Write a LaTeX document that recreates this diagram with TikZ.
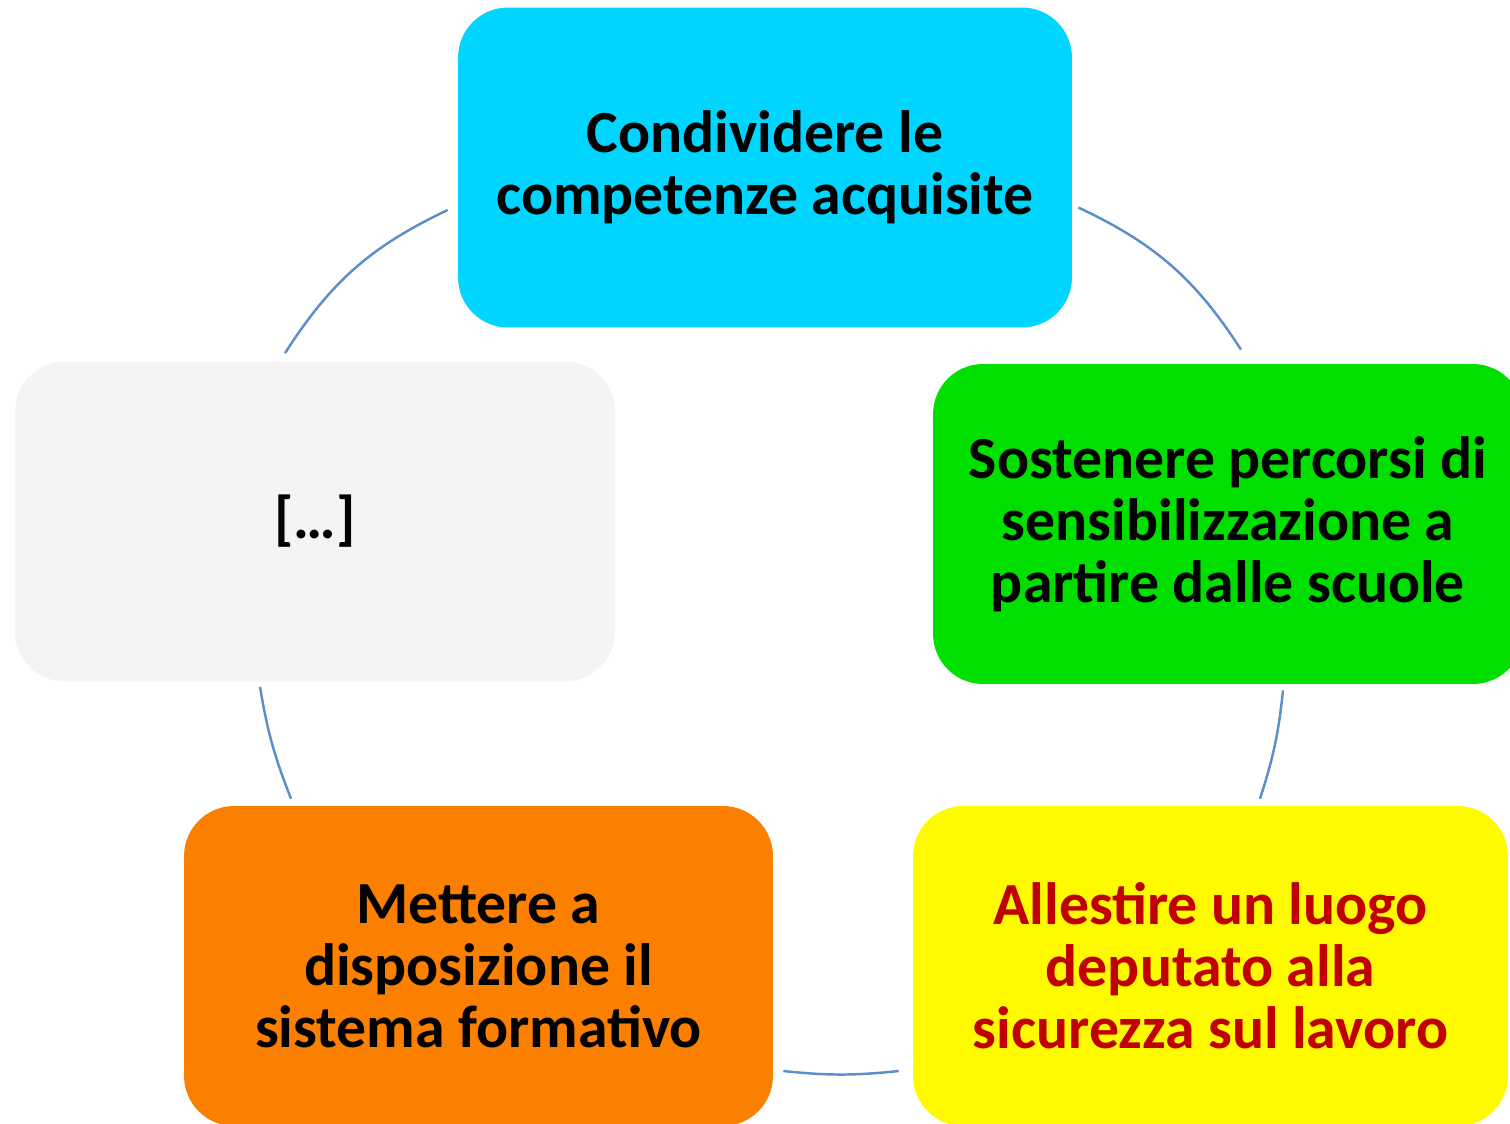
\documentclass[tikz,border=0pt]{standalone}
\usepackage{fontspec}
\setmainfont{Carlito}
\usepackage{tikz}
\usepackage{xcolor}
\definecolor{cyanbox}{HTML}{00D5FF}
\definecolor{greenbox}{HTML}{00DF00}
\definecolor{yellowbox}{HTML}{FFFA00}
\definecolor{orangebox}{HTML}{FB8000}
\definecolor{graybox}{HTML}{F4F4F4}
\definecolor{darkred}{HTML}{C00000}
\definecolor{arcblue}{HTML}{5B8FCB}
\tikzstyle{boxes} = [rectangle, rounded corners=1cm, minimum width=11.8cm, minimum height=6.4cm, inner sep=0pt,
align=center, font=\bfseries\fontsize{34}{35.3}\selectfont]
\tikzstyle{link} = [draw=arcblue, line width=1.4pt]

\begin{document}
\begin{tikzpicture}[x=0.02cm, y=-0.02cm]
        \useasboundingbox (0,0) rectangle (1510,1124);

        \draw (765,167.5) node[boxes, fill=cyanbox, minimum width=12.28cm] (share) {Condividere le\\competenze acquisite}
        (1228,524) node[boxes, fill=greenbox, minimum width=11.8cm] (paths) {Sostenere percorsi di\\sensibilizzazione a\\partire dalle scuole}
        (1210.5,966) node[boxes, fill=yellowbox, text=darkred, minimum width=11.9cm] (place) {Allestire un luogo\\deputato alla\\sicurezza sul lavoro}
        (478.5,966) node[boxes, fill=orangebox, minimum width=11.78cm] (system) {Mettere a\\disposizione il\\sistema formativo}
        (315,521.5) node[boxes, fill=graybox, minimum width=12cm] (more) {[…]};

        \draw[link] ([shift={(6,40)}]share.east) to[bend left=16] ([shift={(13,-14)}]paths.north);
        \draw[link] ([shift={(55,6)}]paths.south) to[bend left=6] ([shift={(49.5,-7)}]place.north);
        \draw[link] ([shift={(-14,105)}]place.west) to[bend left=6] ([shift={(10,105)}]system.east);
        \draw[link] ([shift={(-187.5,-7)}]system.north) to[bend left=6] ([shift={(-55,5)}]more.south);
        \draw[link] ([shift={(-30,-8)}]more.north) to[bend left=16] ([shift={(-10,42.5)}]share.west);
    \end{tikzpicture}
\end{document}
